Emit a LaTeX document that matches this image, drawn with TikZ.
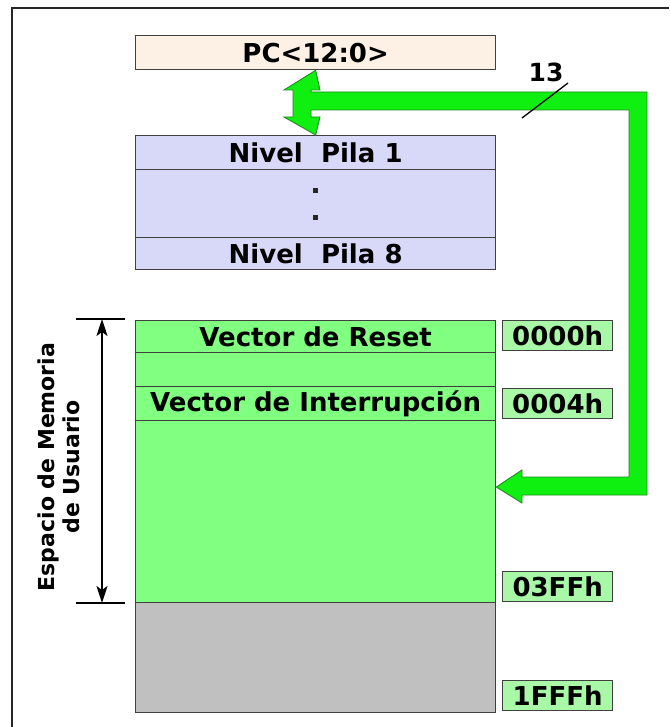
\documentclass[tikz,border=0pt]{standalone}
\usepackage{fontspec}
\setmainfont{DejaVu Sans}
\usetikzlibrary{arrows.meta}

\definecolor{pcfill}{HTML}{FDF1E6}
\definecolor{stackfill}{HTML}{D8D8F8}
\definecolor{memfill}{HTML}{80FF80}
\definecolor{reservedfill}{HTML}{C0C0C0}
\definecolor{addrfill}{HTML}{A8F8A8}
\definecolor{boxline}{HTML}{404040}
\definecolor{busfill}{HTML}{10F010}
\definecolor{busline}{HTML}{208A20}

\begin{document}
\begin{tikzpicture}[x=1pt,y=-1pt,
  cell/.style={draw=boxline, line width=1.3pt, inner sep=0pt, anchor=north west,
               minimum width=360pt, font=\bfseries\fontsize{26}{26}\selectfont},
  addr/.style={draw=boxline, line width=1.3pt, inner sep=0pt, anchor=north west,
               fill=addrfill, minimum width=110pt, minimum height=30pt,
               font=\bfseries\fontsize{26}{26}\selectfont},
  bus/.style={fill=busfill, draw=busline, line width=0.9pt, line join=miter},
  dimline/.style={line width=1.8pt, black},
  stackdot/.style={fill=black!85, inner sep=0pt, minimum size=4.5pt, rectangle}
]
\useasboundingbox (0,0) rectangle (669,727);

% outer frame (top and left edges)
\draw[line width=1.8pt, black!85] (12,727) -- (12,8) -- (669,8);

% program counter
\node[cell, fill=pcfill, minimum height=34pt] (pc) at (135,35) {PC<12:0>};

% hardware stack
\node[cell, fill=stackfill, minimum height=34pt] (lvl1) at (135,135) {Nivel\ \ Pila 1};
\node[cell, fill=stackfill, minimum height=68pt] (lvlmid) at (135,169) {};
\node[cell, fill=stackfill, minimum height=32pt] (lvl8) at (135,237) {Nivel\ \ Pila 8};
\node[stackdot] (dot1) at ([yshift=13pt]lvlmid.center) {};
\node[stackdot] (dot2) at ([yshift=-14pt]lvlmid.center) {};

% program memory
\node[cell, fill=memfill, minimum height=32pt] (reset) at (135,320) {Vector de Reset};
\node[cell, fill=memfill, minimum height=34pt] (gap) at (135,352) {};
\node[cell, fill=memfill, minimum height=34pt] (irq) at (135,386) {Vector de Interrupción};
\node[cell, fill=memfill, minimum height=182pt] (user) at (135,420) {};
\node[cell, fill=reservedfill, minimum height=110pt] (reserved) at (135,602) {};

% addresses
\node[addr] (a0) at (502,320) {0000h};
\node[addr] (a4) at (502,388) {0004h};
\node[addr] (a3ff) at (502,571) {03FFh};
\node[addr] (a1fff) at (502,680) {1FFFh};

% 13-bit bus between PC, stack and memory
\draw[bus] (pc.south) -- (320,90) -- (311,90) -- (311,92) -- (647,92) -- (647,495)
  -- (522,495) -- (522,503) -- (user.east |- 0,487) -- (522,470) -- (522,477)
  -- (629,477) -- (629,110) -- (311,110) -- (311,117) -- (320,117)
  -- (lvl1.north) -- (284,117) -- (293,117) -- (293,90) -- (284,90) -- cycle;

% bus width mark
\coordinate (slashA) at (522,118);
\coordinate (slashB) at (568,83);
\draw[line width=1.3pt] (slashA) -- (slashB);
\node[font=\bfseries\fontsize{25}{25}\selectfont] (width) at (546,72) {13};

% user memory span
\coordinate (spanTop) at (102,319);
\coordinate (spanBot) at (102,603);
\draw[dimline] (76,319) -- (125,319);
\draw[dimline] (76,603) -- (125,603);
\draw[dimline, {Stealth[length=17pt,width=11pt,inset=4pt]}-{Stealth[length=17pt,width=11pt,inset=4pt]}] (spanTop) -- (spanBot);
\node[rotate=90, align=center, font=\bfseries\fontsize{22}{25}\selectfont] (span) at (59,467)
  {Espacio de Memoria\\de Usuario};
\end{tikzpicture}
\end{document}
